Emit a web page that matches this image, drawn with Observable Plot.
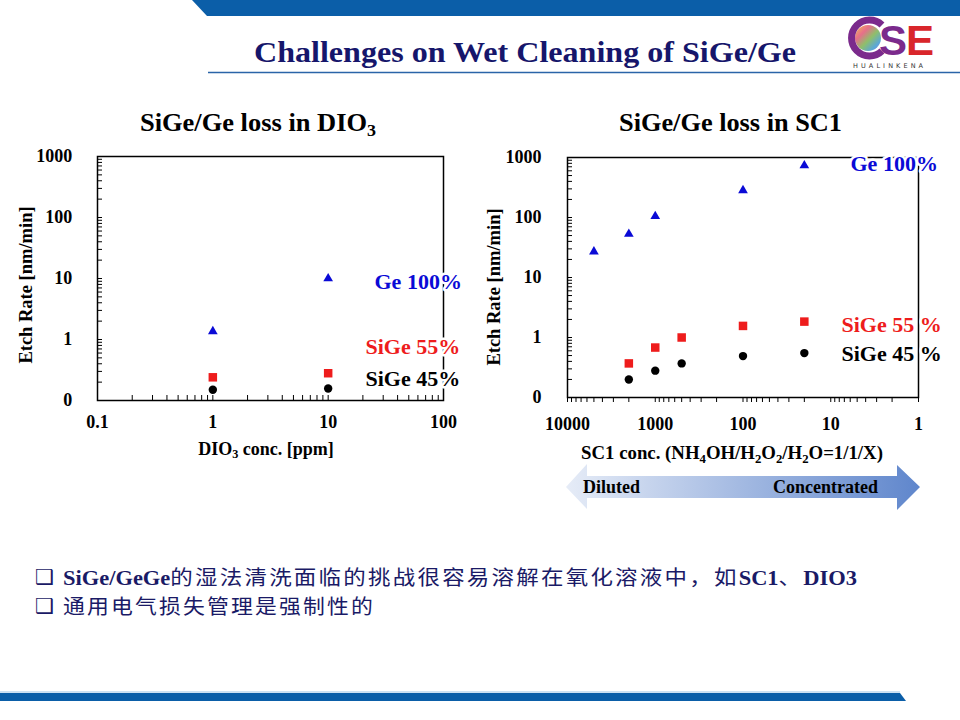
<!DOCTYPE html>
<html><head><meta charset="utf-8">
<script src="https://cdn.jsdelivr.net/npm/d3@7"></script>
<script src="https://cdn.jsdelivr.net/npm/@observablehq/plot@0.6"></script>
<style>
body{margin:0;background:#fff;}
#page{position:relative;width:960px;height:720px;overflow:hidden;font-family:"Liberation Serif","Times New Roman",serif;background:#fff;}
.abs{position:absolute;white-space:nowrap;}
.bold{font-weight:bold;}
.c{transform:translate(-50%,-50%);}
sub{font-size:0.68em;vertical-align:-0.28em;line-height:0;}
.cjk{font-family:"Noto Sans CJK SC",sans-serif;font-weight:400;letter-spacing:2px;}
.box{font-family:'DejaVu Sans',sans-serif;font-size:21px;font-weight:bold;color:#1a1a66;line-height:24px;}
</style></head><body>
<div id="page">
<svg class="abs" style="left:0;top:0" width="960" height="720">
  <defs>
    <linearGradient id="arrowGrad" x1="0" x2="1" y1="0" y2="0">
      <stop offset="0" stop-color="#e6ecf7"/>
      <stop offset="1" stop-color="#5f86cc"/>
    </linearGradient>
    <linearGradient id="rainbow" x1="0" x2="1" y1="0" y2="1">
      <stop offset="0" stop-color="#f2c14e"/>
      <stop offset="0.3" stop-color="#e76f8a"/>
      <stop offset="0.55" stop-color="#8fbf6a"/>
      <stop offset="0.8" stop-color="#5aa7d8"/>
      <stop offset="1" stop-color="#9b7fd0"/>
    </linearGradient>
  </defs>
  <polygon points="192,0 960,0 960,16 207,16" fill="#0b5ea8"/>
  <line x1="208" y1="72.5" x2="960" y2="72.5" stroke="#2a64a8" stroke-width="1.5"/>
  <line x1="0" y1="692" x2="900" y2="692" stroke="#9cc3e6" stroke-width="1.2"/>
  <polygon points="0,693 900,693 906,701 0,701" fill="#0b5ea8"/>
  <polygon points="566,487 587,464 587,476 897,476 897,465 920,487 897,510 897,498 587,498 587,509" fill="url(#arrowGrad)"/>
  <!-- logo -->
  <g>
    <circle cx="868" cy="38" r="13" fill="url(#rainbow)"/>
    <path d="M 882 25 A 18 18 0 1 0 882 51" fill="none" stroke="#7b2a8c" stroke-width="7"/>
    <text x="879" y="55" font-family="'Liberation Sans',sans-serif" font-weight="bold" font-size="42" fill="#7b2a8c">S</text>
    <text x="906" y="55" font-family="'Liberation Sans',sans-serif" font-weight="bold" font-size="42" fill="#d9262b">E</text>
    <text x="853" y="68" font-family="'DejaVu Sans',sans-serif" font-size="6.5" letter-spacing="3.1" fill="#333">HUALINKENA</text>
  </g>
</svg>

<div id="mainTitle" class="abs bold" style="left:254px;top:34px;font-size:30px;color:#16166b;line-height:36px;">Challenges on Wet Cleaning of SiGe/Ge</div>

<div id="t1" class="abs bold" style="left:140px;top:108px;font-size:25px;line-height:30px;">SiGe/Ge loss in DIO<sub>3</sub></div>
<div id="t2" class="abs bold" style="left:619px;top:108px;font-size:25px;line-height:30px;">SiGe/Ge loss in SC1</div>

<div id="leftChart" class="abs" style="left:0;top:140px;"></div>
<div id="rightChart" class="abs" style="left:480px;top:140px;"></div>

<div class="abs bold" style="left:26px;top:285px;font-size:18.5px;transform:translate(-50%,-50%) rotate(-90deg);">Etch Rate [nm/min]</div>
<div class="abs bold" style="left:494px;top:287px;font-size:18.5px;transform:translate(-50%,-50%) rotate(-90deg);">Etch Rate [nm/min]</div>
<div class="abs bold c" style="left:266px;top:449px;font-size:18px;">DIO<sub>3</sub> conc. [ppm]</div>
<div class="abs bold c" style="left:732px;top:453px;font-size:18.8px;">SC1 conc. (NH<sub>4</sub>OH/H<sub>2</sub>O<sub>2</sub>/H<sub>2</sub>O=1/1/X)</div>

<div class="abs bold" style="left:583px;top:476px;font-size:18px;line-height:22px;">Diluted</div>
<div class="abs bold" style="left:773px;top:476px;font-size:18px;line-height:22px;">Concentrated</div>

<div class="abs box" style="left:35px;top:565px;">❑</div>
<div class="abs box" style="left:35px;top:594px;">❑</div>
<div id="b1" class="abs" style="left:63px;top:564px;font-size:20px;line-height:26px;color:#1a1a66;"><span class="bold">SiGe/GeGe</span><span class="cjk">的湿法清洗面临的挑战很容易溶解在氧化溶液中，如</span><span class="bold">SC1</span><span class="cjk">、</span><span class="bold">DIO3</span></div>
<div id="b2" class="abs" style="left:63px;top:593px;font-size:20px;line-height:26px;color:#1a1a66;"><span class="cjk">通用电气损失管理是强制性的</span></div>
</div>

<script>
// ---------- data ----------
const dio3Conc = [1, 10];
const dio3Ge100 = [1.36, 10];
const dio3SiGe55 = [0.24, 0.28];
const dio3SiGe45 = [0.15, 0.157];

const sc1GeConc = [5000, 2000, 1000, 100, 20];
const sc1Ge100 = [27, 53, 105, 283, 735];
const sc1SiGeConc = [2000, 1000, 500, 100, 20];
const sc1SiGe55 = [0.37, 0.68, 1.0, 1.56, 1.84];
const sc1SiGe45 = [0.2, 0.28, 0.37, 0.49, 0.55];

const dio3SeriesNames = ["Ge 100%", "SiGe 55%", "SiGe 45%"];
const sc1SeriesNames = ["Ge 100%", "SiGe 55 %", "SiGe 45 %"];

const yTickValues = [0.1, 1, 10, 100, 1000];
const yTickLabels = ["0", "1", "10", "100", "1000"];
const dio3TickValues = [0.1, 1, 10, 100];
const dio3TickLabels = ["0.1", "1", "10", "100"];
const sc1TickValues = [10000, 1000, 100, 10, 1];
const sc1TickLabels = ["10000", "1000", "100", "10", "1"];

// ---------- helpers ----------
const FONT = "'Liberation Serif','Times New Roman',serif";
const BLUE = "#0a0ad6", RED = "#ee1c1c", BLACK = "#000";
function logTicks(lo, hi) {
  const t = [];
  for (let d = lo; d < hi * 1.0001; d *= 10)
    for (let k = 1; k <= 9; k++) { const v = +(d * k).toPrecision(6); if (v <= hi * 1.0001) t.push(v); }
  return t;
}
function fmtFrom(values, labels) {
  return v => { const i = values.findIndex(t => Math.abs(t - v) / t < 1e-6); return i < 0 ? "" : labels[i]; };
}
const rows = (xs, ys) => xs.map((x, i) => ({x, y: ys[i]}));
const labelStyle = {frameAnchor: "top-left", textAnchor: "start", lineAnchor: "middle", fontSize: 22, fontWeight: "bold", fontFamily: FONT, stroke: "white", strokeWidth: 5};

// ---------- left chart ----------
const left = Plot.plot({
  width: 480, height: 300, marginTop: 16, marginBottom: 40, marginLeft: 97, marginRight: 37,
  style: {fontFamily: FONT, background: "transparent", overflow: "visible", color: "black"},
  x: {type: "log", domain: [0.1, 100]},
  y: {type: "log", domain: [0.1, 1000]},
  marks: [
    Plot.axisY({ticks: logTicks(0.1, 1000), tickSize: -5, tickPadding: 30.3, tickFormat: fmtFrom(yTickValues, yTickLabels), label: null, fontSize: 18, fontWeight: "bold"}),
    Plot.axisX({ticks: logTicks(0.1, 100), tickSize: -5, tickPadding: 19.5, tickFormat: fmtFrom(dio3TickValues, dio3TickLabels), label: null, fontSize: 18, fontWeight: "bold"}),
    Plot.frame({stroke: "black", strokeWidth: 1.5}),
    Plot.dot(rows(dio3Conc, dio3Ge100), {x: "x", y: "y", symbol: "triangle", r: 3.6, fill: BLUE}),
    Plot.dot(rows(dio3Conc, dio3SiGe55), {x: "x", y: "y", symbol: "square", r: 4.8, fill: RED}),
    Plot.dot(rows(dio3Conc, dio3SiGe45), {x: "x", y: "y", symbol: "circle", r: 4.2, fill: BLACK}),
    Plot.text([dio3SeriesNames[0]], {...labelStyle, dx: 277, dy: 125, fill: BLUE}),
    Plot.text([dio3SeriesNames[1]], {...labelStyle, dx: 268, dy: 190, fill: RED}),
    Plot.text([dio3SeriesNames[2]], {...labelStyle, dx: 268, dy: 222, fill: BLACK})
  ]
});
document.getElementById("leftChart").append(left);

// ---------- right chart ----------
const right = Plot.plot({
  width: 480, height: 300, marginTop: 17, marginBottom: 43, marginLeft: 87, marginRight: 42,
  style: {fontFamily: FONT, background: "transparent", overflow: "visible", color: "black"},
  x: {type: "log", domain: [1, 10000], reverse: true},
  y: {type: "log", domain: [0.1, 1000]},
  marks: [
    Plot.axisY({ticks: logTicks(0.1, 1000), tickSize: -5, tickPadding: 31, tickFormat: fmtFrom(yTickValues, yTickLabels), label: null, fontSize: 18, fontWeight: "bold"}),
    Plot.axisX({ticks: logTicks(1, 10000), tickSize: 5, tickPadding: 15, tickFormat: fmtFrom(sc1TickValues, sc1TickLabels), label: null, fontSize: 18, fontWeight: "bold"}),
    Plot.frame({stroke: "black", strokeWidth: 1.5}),
    Plot.dot(rows(sc1GeConc, sc1Ge100), {x: "x", y: "y", symbol: "triangle", r: 3.6, fill: BLUE}),
    Plot.dot(rows(sc1SiGeConc, sc1SiGe55), {x: "x", y: "y", symbol: "square", r: 4.8, fill: RED}),
    Plot.dot(rows(sc1SiGeConc, sc1SiGe45), {x: "x", y: "y", symbol: "circle", r: 4.2, fill: BLACK}),
    Plot.text([sc1SeriesNames[0]], {...labelStyle, dx: 283, dy: 6, fill: BLUE}),
    Plot.text([sc1SeriesNames[1]], {...labelStyle, dx: 274, dy: 167, fill: RED}),
    Plot.text([sc1SeriesNames[2]], {...labelStyle, dx: 274, dy: 196, fill: BLACK})
  ]
});
document.getElementById("rightChart").append(right);

// ---------- fit text widths ----------
function fit(id, w) {
  const el = document.getElementById(id);
  const r = el.getBoundingClientRect().width;
  el.style.transformOrigin = "left center";
  el.style.transform = `scaleX(${w / r})`;
}
fit("mainTitle", 542);
fit("t1", 236);
fit("t2", 223);
fit("b1", 794);
fit("b2", 312);
</script>
</body></html>
